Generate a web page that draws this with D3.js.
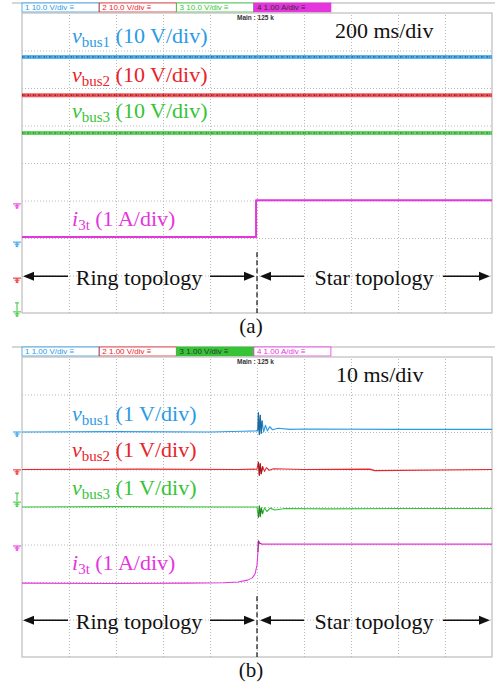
<!DOCTYPE html>
<html>
<head>
<meta charset="utf-8">
<script src="https://cdn.jsdelivr.net/npm/d3@7"></script>
<style>
  body { margin: 0; background: #fff; }
  svg { display: block; }
  .grid line { stroke: #b8b8b8; stroke-dasharray: 1,2; }
  .serif { font-family: "Liberation Serif", "Times New Roman", serif; }
</style>
</head>
<body>
<div id="chart-area"></div>
<script>
// values are in scope divisions: time 0..10 div, amplitude 0..8 div (0 = bottom)
const chNames = ["vbus1", "vbus2", "vbus3", "i3t"]
const chColors = ["#2a9be6", "#e8242a", "#36c436", "#e535dd"]

// panel (a): 200 ms/div
const headerA = ["10.0 V/div", "10.0 V/div", "10.0 V/div", "1.00 A/div"]
const scaleA = ["(10 V/div)", "(10 V/div)", "(10 V/div)", "(1 A/div)"]
const vbus1A = [[0, 6.83], [10, 6.83]]
const vbus2A = [[0, 5.81], [10, 5.81]]
const vbus3A = [[0, 4.8], [10, 4.8]]
const i3tA = [[0, 2.03], [4.98, 2.03], [4.98, 3.01], [10, 3.01]]
const groundA = [0.03, 0.93, 1.89, 2.91]   // green, red, blue, magenta
const labelYA = [7.21, 6.17, 5.2, 2.32]

// panel (b): 10 ms/div
const headerB = ["1.00 V/div", "1.00 V/div", "1.00 V/div", "1.00 A/div"]
const scaleB = ["(1 V/div)", "(1 V/div)", "(1 V/div)", "(1 A/div)"]
const vbus1B = [[0, 6.0], [2, 6.01], [4, 6.0], [4.7, 6.02], [4.98, 6.03], [5.02, 6.05], [5.03, 6.52],
  [5.05, 5.93], [5.07, 6.45], [5.09, 5.96], [5.11, 6.3], [5.14, 6.0], [5.18, 6.18], [5.22, 6.03],
  [5.27, 6.14], [5.33, 6.06], [5.45, 6.1], [5.7, 6.07], [6, 6.08], [8, 6.07], [10, 6.07]]
const vbus2B = [[0, 5.0], [2.5, 5.01], [4.6, 5.0], [5.0, 5.01], [5.03, 5.2], [5.05, 4.84], [5.07, 5.16],
  [5.09, 4.88], [5.12, 5.08], [5.16, 4.95], [5.2, 5.05], [5.26, 4.98], [5.35, 5.02], [6, 5.0],
  [7.4, 5.01], [7.5, 4.97], [10, 5.0]]
const vbus3B = [[0, 4.0], [2, 4.01], [4.5, 4.0], [5.0, 4.0], [5.03, 3.72], [5.05, 4.03], [5.07, 3.74],
  [5.09, 3.98], [5.12, 3.82], [5.16, 3.98], [5.21, 3.88], [5.28, 3.97], [5.38, 3.92], [5.6, 3.96],
  [6.5, 3.95], [8, 3.96], [10, 3.96]]
const i3tB = [[0, 1.97], [2, 1.96], [3.5, 1.97], [4.3, 1.98], [4.6, 2.0], [4.8, 2.05], [4.9, 2.11],
  [4.96, 2.22], [5.0, 2.45], [5.02, 2.8], [5.03, 3.1], [5.05, 3.04], [5.1, 3.01], [10, 3.01]]
const groundB = [4.13, 4.99, 6.0, 2.96]
const labelYB = [6.3, 5.33, 4.33, 2.33]

const W = 495, H = 687
const svg = d3.select("#chart-area").append("svg")
  .attr("width", W).attr("height", H)

const x = d3.scaleLinear().domain([0, 10]).range([22, 492])

function drawPanel(top, opts) {
  const y = d3.scaleLinear().domain([0, 8]).range([top + 300, top])
  const g = svg.append("g")

  // header strip
  g.append("line")
    .attr("x1", 12).attr("x2", W).attr("y1", top - 10).attr("y2", top - 10)
    .attr("stroke", "#999").attr("stroke-width", 0.8)
  opts.header.forEach((t, i) => {
    const filled = i === opts.filledBox
    const bx = 22 + i * 77.3
    g.append("rect")
      .attr("x", bx).attr("y", top - 10).attr("width", 77).attr("height", 9)
      .attr("fill", filled ? chColors[i] : "#fff")
      .attr("stroke", chColors[i]).attr("stroke-width", 0.8)
    g.append("text")
      .attr("x", bx + 3).attr("y", top - 2.6)
      .attr("font-family", "Liberation Sans, Arial, sans-serif")
      .attr("font-size", "8px")
      .attr("fill", filled ? "#333" : chColors[i])
      .text((i + 1) + "  " + t + " ≡")
  })
  g.append("text")
    .attr("x", 237).attr("y", top + 7)
    .attr("font-family", "Liberation Sans, Arial, sans-serif")
    .attr("font-size", "6.5px").attr("font-weight", "bold").attr("fill", "#333")
    .text("Main : 125 k")

  // grid
  g.append("g").attr("class", "grid")
    .attr("transform", `translate(0, ${top + 300})`)
    .call(d3.axisBottom(x).tickValues(d3.range(1, 10)).tickSize(-300).tickFormat(""))
    .call(s => s.select(".domain").remove())
  g.append("g").attr("class", "grid")
    .attr("transform", "translate(22, 0)")
    .call(d3.axisLeft(y).tickValues(d3.range(1, 8)).tickSize(-470).tickFormat(""))
    .call(s => s.select(".domain").remove())
  g.append("rect")
    .attr("x", x(0)).attr("y", y(8)).attr("width", x(10) - x(0)).attr("height", y(0) - y(8))
    .attr("fill", "none").attr("stroke", "#bdbdbd").attr("stroke-width", 1.2)

  // ground markers on the left
  const gOrder = [2, 1, 0, 3]  // groundX index -> channel colour
  opts.ground.forEach((v, k) => {
    const c = chColors[[2, 1, 0, 3][k]]
    const gy = y(v)
    const m = g.append("g").attr("stroke", c).attr("stroke-width", 1).attr("fill", "none")
    m.append("line").attr("x1", 13).attr("x2", 21).attr("y1", gy).attr("y2", gy)
    m.append("path").attr("d", `M14.5,${gy + 2}H19.5M15.5,${gy + 4}H18.5M17,${gy}V${gy + 5}`)
    if (k === 0) {
      m.append("path").attr("d", `M15,${gy - 9}H19M17,${gy - 9}V${gy - 1}`)
    }
  })

  // traces
  const line = d3.line().x(d => x(d[0])).y(d => y(d[1]))
  opts.series.forEach((s, i) => {
    if (opts.noisy && i < 3) {
      g.append("path").datum(s).attr("d", line)
        .attr("fill", "none").attr("stroke", chColors[i]).attr("stroke-width", 4).attr("opacity", 0.75)
      g.append("path").datum(s).attr("d", line)
        .attr("fill", "none").attr("stroke", d3.color(chColors[i]).darker(0.9))
        .attr("stroke-width", 1.6).attr("stroke-dasharray", "1.5,1,0.7,2.2")
    } else {
      g.append("path").datum(s).attr("d", line)
        .attr("fill", "none").attr("stroke", chColors[i])
        .attr("stroke-width", opts.noisy ? 2 : 1.1).attr("stroke-linejoin", "round")
    }
  })
  if (!opts.noisy) {
    // darker tone where the traces ring at the switching instant
    opts.series.forEach((s, i) => {
      const part = s.filter(d => d[0] >= 5.01 && d[0] <= 5.12)
      g.append("path").datum(part).attr("d", line)
        .attr("fill", "none").attr("stroke", d3.color(chColors[i]).darker(1.5))
        .attr("stroke-width", 1.1).attr("opacity", 0.8)
    })
  }

  // channel labels
  opts.labelY.forEach((v, i) => {
    const t = g.append("text").attr("class", "serif")
      .attr("x", 72).attr("y", y(v))
      .attr("font-size", "22px").attr("fill", chColors[i])
    const name = chNames[i]
    t.append("tspan").attr("font-style", "italic").text(name[0])
    t.append("tspan").attr("font-size", "15px").attr("dy", 4).text(name.slice(1))
    t.append("tspan").attr("dy", -4).text(" " + opts.scale[i])
  })
  g.append("text").attr("class", "serif")
    .attr("x", opts.tdivX).attr("y", top + 25)
    .attr("font-size", "22px").attr("fill", "#111")
    .text(opts.tdiv)

  // topology annotation
  const ay = y(0.98)
  const sw = x(5.0)
  g.append("line")
    .attr("x1", sw).attr("x2", sw).attr("y1", y(1.62)).attr("y2", y(0))
    .attr("stroke", "#111").attr("stroke-width", 1.2).attr("stroke-dasharray", "5,3")
  const arrow = (x1, x2) => {
    const dir = Math.sign(x2 - x1)
    g.append("line").attr("x1", x1).attr("x2", x2 - dir * 8).attr("y1", ay).attr("y2", ay)
      .attr("stroke", "#111").attr("stroke-width", 1.6)
    g.append("path")
      .attr("d", `M${x2},${ay}L${x2 - dir * 11},${ay - 4.5}L${x2 - dir * 11},${ay + 4.5}Z`)
      .attr("fill", "#111")
  }
  arrow(68, x(0) + 1)
  arrow(210, sw - 2)
  arrow(304, sw + 3)
  arrow(443, 490)
  g.append("text").attr("class", "serif")
    .attr("x", 139).attr("y", ay + 9).attr("text-anchor", "middle")
    .attr("font-size", "22px").attr("fill", "#111").text("Ring topology")
  g.append("text").attr("class", "serif")
    .attr("x", 374).attr("y", ay + 9).attr("text-anchor", "middle")
    .attr("font-size", "22px").attr("fill", "#111").text("Star topology")

  g.append("text").attr("class", "serif")
    .attr("x", 251).attr("y", top + 320).attr("text-anchor", "middle")
    .attr("font-size", "21px").attr("fill", "#111").text(opts.caption)
}

drawPanel(13, {
  header: headerA, filledBox: 3, scale: scaleA, noisy: true,
  series: [vbus1A, vbus2A, vbus3A, i3tA], ground: groundA, labelY: labelYA,
  tdiv: "200 ms/div", tdivX: 335, caption: "(a)"
})
drawPanel(357, {
  header: headerB, filledBox: 2, scale: scaleB, noisy: false,
  series: [vbus1B, vbus2B, vbus3B, i3tB], ground: groundB, labelY: labelYB,
  tdiv: "10 ms/div", tdivX: 336, caption: "(b)"
})
</script>
</body>
</html>
